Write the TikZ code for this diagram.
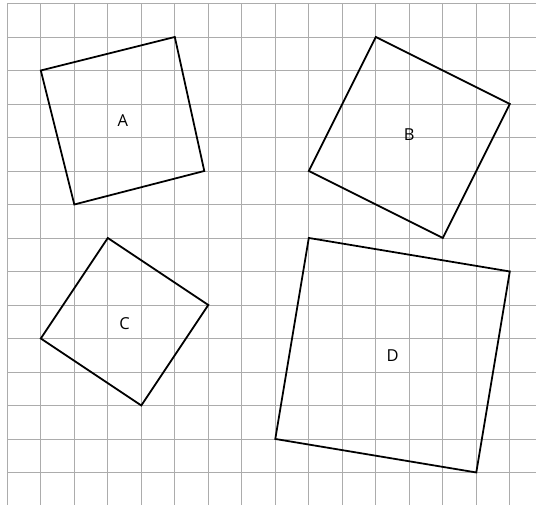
\documentclass[tikz,border=0pt]{standalone}
\usepackage{fontspec}
\setmainfont{Open Sans}
\begin{document}
\begin{tikzpicture}[x=1cm,y=-1cm,
  gridline/.style={gray!65,line width=0.6pt},
  sq/.style={black,line width=1.5pt,line join=miter},
  lbl/.style={font=\fontsize{14}{16}\selectfont,inner sep=0pt}]
\fill[white] (-0.218,-0.104) rectangle (15.782,14.97);
\useasboundingbox (-0.218,-0.104) rectangle (15.782,14.97);
\foreach \i in {0,...,15} \draw[gridline] (\i,0) -- (\i,14.97);
\foreach \j in {0,...,14} \draw[gridline] (0,\j) -- (15.782,\j);
\draw[sq] (5,1) -- (1,2) -- (2,6) -- (5.88,5) -- cycle;
\draw[sq] (11,1) -- (15,3) -- (13,7) -- (9,5) -- cycle;
\draw[sq] (3,7) -- (6,9) -- (4,12) -- (1,10) -- cycle;
\draw[sq] (9,7) -- (15,8) -- (14,14) -- (8,13) -- cycle;
\node[lbl] (A) at (3.45,3.5) {A};
\node[lbl] (B) at (12,3.9) {B};
\node[lbl] (C) at (3.5,9.55) {C};
\node[lbl] (D) at (11.5,10.5) {D};
\end{tikzpicture}
\end{document}
